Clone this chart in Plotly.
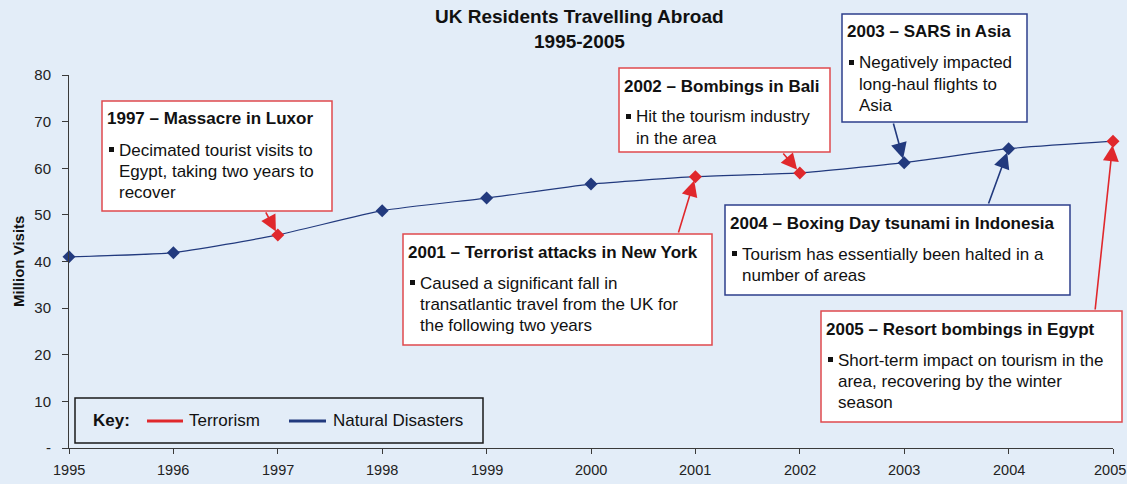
import plotly.graph_objects as go

# ---- data -------------------------------------------------------------
years = [1995, 1996, 1997, 1998, 1999, 2000, 2001, 2002, 2003, 2004, 2005]
visits = [41.0, 41.9, 45.7, 50.9, 53.6, 56.6, 58.2, 59.0, 61.2, 64.2, 65.8]

y_ticks = [0, 10, 20, 30, 40, 50, 60, 70, 80]
y_tick_labels = ["-", "10", "20", "30", "40", "50", "60", "70", "80"]

event_years = [1997, 2002, 2003, 2004, 2001, 2005]
event_kinds = ["terror", "terror", "natural", "natural", "terror", "terror"]
event_titles = [
    "1997 – Massacre in Luxor",
    "2002 – Bombings in Bali",
    "2003 – SARS in Asia",
    "2004 – Boxing Day tsunami in Indonesia",
    "2001 – Terrorist attacks in New York",
    "2005 – Resort bombings in Egypt",
]
event_notes = [
    ["Decimated tourist visits to", "Egypt, taking two years to", "recover"],
    ["Hit the tourism industry", "in the area"],
    ["Negatively impacted", "long-haul flights to", "Asia"],
    ["Tourism has essentially been halted in a", "number of areas"],
    ["Caused a significant fall in", "transatlantic travel from the UK for",
     "the following two years"],
    ["Short-term impact on tourism in the", "area, recovering by the winter",
     "season"],
]

key_labels = ["Terrorism", "Natural Disasters"]

# ---- styling ----------------------------------------------------------
FONT = "Liberation Sans, Arial, Helvetica, sans-serif"
BG = "#E3EDF8"
NAVY = "#223A7E"
RED = "#E0282C"
BOX_RED = "#E04A4E"
BOX_NAVY = "#2E3F8C"
AXIS = "#3A3A3A"
TEXT = "#111111"
TICK_TEXT = "#222222"
KIND_COLOR = {"terror": RED, "natural": NAVY}
KIND_BORDER = {"terror": BOX_RED, "natural": BOX_NAVY}

# figure / plot-area geometry in pixels
FIG_W, FIG_H = 1127, 484
M_L, M_R, M_T, M_B = 69, 14, 75, 36
PLOT_W = FIG_W - M_L - M_R
PLOT_H = FIG_H - M_T - M_B


def fx(px):
    return (px - M_L) / PLOT_W


def fy(py):
    return (M_T + PLOT_H - py) / PLOT_H


# call-out boxes (left, top, right, bottom) and arrow tails, in pixels
boxes = [
    (102, 101, 332, 211),
    (619, 68, 830, 152),
    (842, 14, 1027, 122),
    (725, 205, 1070, 295),
    (403, 234, 712, 345),
    (821, 311, 1122, 422),
]
arrow_tails = [(265, 211), (782, 152), (893, 122), (988, 205), (678, 234), (1095, 311)]

event_set = {y: k for y, k in zip(event_years, event_kinds)}
marker_colors = [RED if event_set.get(y) == "terror" else NAVY for y in years]

fig = go.Figure()
fig.add_trace(go.Scatter(
    x=years, y=visits, mode="lines+markers",
    line=dict(color=NAVY, width=1.2, shape="spline", smoothing=0.5),
    marker=dict(symbol="diamond", size=10, color=marker_colors, line=dict(width=0)),
    cliponaxis=False, showlegend=False, hoverinfo="x+y",
))

shapes = []
annotations = []

# title
for text, py in [("UK Residents Travelling Abroad", 17), ("1995-2005", 42)]:
    annotations.append(dict(
        x=fx(579), y=fy(py), xref="paper", yref="paper", xanchor="center",
        yanchor="middle", text=f"<b>{text}</b>", showarrow=False,
        font=dict(family=FONT, size=19, color=TEXT), borderpad=0, borderwidth=0,
    ))

# y-axis title
annotations.append(dict(
    x=fx(18), y=fy(262), xref="paper", yref="paper", xanchor="center",
    yanchor="middle", text="<b>Million Visits</b>", textangle=-90, showarrow=False,
    font=dict(family=FONT, size=15, color=TEXT), borderpad=0, borderwidth=0,
))

# year labels under the x ticks (the last one kept inside the page edge)
for i, yr in enumerate(years):
    last = i == len(years) - 1
    annotations.append(dict(
        x=fx(FIG_W - 1) if last else yr, xref="paper" if last else "x",
        y=fy(470), yref="paper", xanchor="right" if last else "center",
        yanchor="middle", text=str(yr), showarrow=False,
        font=dict(family=FONT, size=14.5, color=TICK_TEXT), borderpad=0, borderwidth=0,
    ))

# call-out boxes with arrows to the data points
for yr, kind, title, notes, (x0, y0, x1, y1), (tx, ty) in zip(
        event_years, event_kinds, event_titles, event_notes, boxes, arrow_tails):
    color = KIND_COLOR[kind]
    idx = years.index(yr)
    shapes.append(dict(
        type="rect", xref="paper", yref="paper",
        x0=fx(x0), x1=fx(x1), y0=fy(y1), y1=fy(y0),
        fillcolor="white", line=dict(color=KIND_BORDER[kind], width=1.5), layer="above",
    ))
    annotations.append(dict(
        x=fx(x0 + 5), y=fy(y0 + 18), xref="paper", yref="paper", xanchor="left",
        yanchor="middle", text=f"<b>{title}</b>", showarrow=False,
        font=dict(family=FONT, size=17, color=TEXT), borderpad=0, borderwidth=0,
    ))
    shapes.append(dict(
        type="rect", xref="paper", yref="paper",
        x0=fx(x0 + 7), x1=fx(x0 + 12), y0=fy(y0 + 51), y1=fy(y0 + 46),
        fillcolor=TEXT, line=dict(width=0), layer="above",
    ))
    for i, line in enumerate(notes):
        annotations.append(dict(
            x=fx(x0 + 17), y=fy(y0 + 49 + 21 * i), xref="paper", yref="paper",
            xanchor="left", yanchor="middle", text=line, showarrow=False,
            font=dict(family=FONT, size=17, color=TEXT), borderpad=0, borderwidth=0,
        ))
    # arrow: head on the marker, tail on the box edge (pixel offsets)
    hx = M_L + (yr - years[0]) / (years[-1] - years[0]) * PLOT_W
    hy = M_T + PLOT_H - visits[idx] / 80 * PLOT_H
    annotations.append(dict(
        x=yr, y=visits[idx], xref="x", yref="y", text="", showarrow=True,
        ax=tx - hx, ay=ty - hy, axref="pixel", ayref="pixel",
        arrowhead=2, arrowsize=2.0, arrowwidth=1.6, arrowcolor=color, standoff=4,
    ))

# key box
shapes.append(dict(
    type="rect", xref="paper", yref="paper",
    x0=fx(75), x1=fx(483), y0=fy(443), y1=fy(398),
    fillcolor="rgba(0,0,0,0)", line=dict(color="#1A1A1A", width=1.5), layer="above",
))
annotations.append(dict(
    x=fx(93), y=fy(420), xref="paper", yref="paper", xanchor="left", yanchor="middle",
    text="<b>Key:</b>", showarrow=False, font=dict(family=FONT, size=17, color=TEXT),
    borderpad=0, borderwidth=0,
))
for label, color, (lx0, lx1, tx0) in zip(
        key_labels, [RED, NAVY], [(147, 183, 189), (289, 326, 333)]):
    shapes.append(dict(
        type="line", xref="paper", yref="paper",
        x0=fx(lx0), x1=fx(lx1), y0=fy(421), y1=fy(421),
        line=dict(color=color, width=3), layer="above",
    ))
    annotations.append(dict(
        x=fx(tx0), y=fy(420), xref="paper", yref="paper", xanchor="left",
        yanchor="middle", text=label, showarrow=False,
        font=dict(family=FONT, size=17, color=TEXT), borderpad=0, borderwidth=0,
    ))

fig.update_layout(
    width=FIG_W, height=FIG_H,
    margin=dict(l=M_L, r=M_R, t=M_T, b=M_B, pad=0),
    paper_bgcolor=BG, plot_bgcolor=BG,
    font=dict(family=FONT, color=TEXT),
    shapes=shapes, annotations=annotations,
    xaxis=dict(
        range=[years[0], years[-1]], tickvals=years, showticklabels=False,
        showgrid=False, zeroline=False, showline=True, linecolor=AXIS, linewidth=1,
        ticks="outside", ticklen=5, tickcolor=AXIS, tickwidth=1, automargin=False,
    ),
    yaxis=dict(
        range=[0, 80], tickvals=y_ticks, ticktext=y_tick_labels,
        showgrid=False, zeroline=False, showline=True, linecolor=AXIS, linewidth=1,
        ticks="outside", ticklen=6, tickcolor=AXIS, tickwidth=1,
        ticklabelstandoff=8, automargin=False,
        tickfont=dict(family=FONT, size=15, color=TICK_TEXT),
    ),
)

fig.write_html("out.html")
